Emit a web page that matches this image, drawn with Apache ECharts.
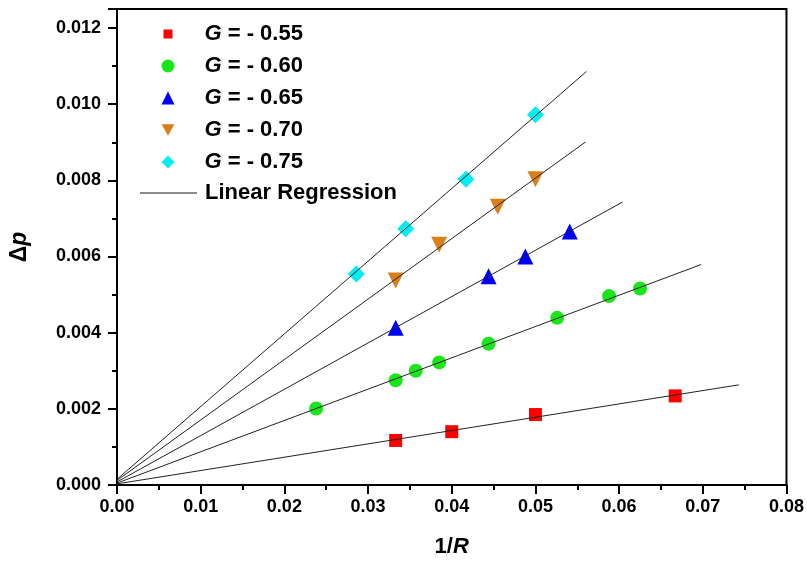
<!DOCTYPE html>
<html>
<head>
<meta charset="utf-8">
<script src="https://cdn.jsdelivr.net/npm/echarts@6/dist/echarts.min.js"></script>
<style>html,body{margin:0;padding:0;background:#fff}#c{width:807px;height:563px}</style>
</head>
<body>
<div id="c"></div>
<script>
// ---- data ----
var seriesNames = ['G = - 0.55', 'G = - 0.60', 'G = - 0.65', 'G = - 0.70', 'G = - 0.75'];
var x055 = [0.0333, 0.0400, 0.0500, 0.0667];
var y055 = [0.00117, 0.00140, 0.00185, 0.00234];
var x060 = [0.0238, 0.0333, 0.0357, 0.0385, 0.0444, 0.0526, 0.0588, 0.0625];
var y060 = [0.00201, 0.00275, 0.00300, 0.00322, 0.00371, 0.00439, 0.00496, 0.00516];
var x065 = [0.0333, 0.0444, 0.0488, 0.0541];
var y065 = [0.00413, 0.00548, 0.00600, 0.00666];
var x070 = [0.0333, 0.0385, 0.0455, 0.0500];
var y070 = [0.00537, 0.00631, 0.00731, 0.00803];
var x075 = [0.0286, 0.0345, 0.0417, 0.0500];
var y075 = [0.00554, 0.00673, 0.00803, 0.00972];
// regression line end points
var fitX0 = [0, 0, 0, 0, 0];
var fitY0 = [0.00003, 0.00005, 0.00008, 0.00012, 0.00015];
var fitX1 = [0.0743, 0.0698, 0.0604, 0.0560, 0.0561];
var fitY1 = [0.00263, 0.00579, 0.00743, 0.00901, 0.01086];
var xTicks = ['0.00', '0.01', '0.02', '0.03', '0.04', '0.05', '0.06', '0.07', '0.08'];
var yTicks = ['0.000', '0.002', '0.004', '0.006', '0.008', '0.010', '0.012'];

// ---- styles ----
var FONT = "'Liberation Sans', Arial, sans-serif";
var colors = ['#ff0000', '#19e619', '#0000ff', '#d9801a', '#00eef0'];
var symbols = ['rect', 'circle', 'triangle', 'triangle', 'diamond'];
var legendIcons = ['path://M2,2L11,2L11,11L2,11Z M0,0 M13,13', 'path://M6.5,0.5A6,6 0 1,1 6.49,0.5Z', 'triangle', 'path://M0,0L2,0L1,1.8Z', 'diamond'];
var sizes = [13, 14, 16, 16, 17];
var rotates = [0, 0, 0, 180, 0];
var xs = [x055, x060, x065, x070, x075];
var ys = [y055, y060, y065, y070, y075];

function zip(a, b) { return a.map(function (v, i) { return [v, b[i]]; }); }

var series = [];
for (var i = 0; i < 5; i++) {
  series.push({
    name: seriesNames[i], type: 'scatter', data: zip(xs[i], ys[i]),
    symbol: symbols[i], symbolSize: sizes[i], symbolRotate: rotates[i],
    itemStyle: { color: colors[i], opacity: 1 }, z: 2
  });
}
for (var j = 0; j < 5; j++) {
  series.push({
    name: 'Linear Regression', type: 'line',
    data: [[fitX0[j], fitY0[j]], [fitX1[j], fitY1[j]]],
    symbol: 'none', lineStyle: { color: '#222', width: 1 }, itemStyle: { color: '#555' },
    z: 3, silent: true
  });
}

var legendText = function (pad) {
  return {
    fontFamily: FONT, fontSize: 22, fontWeight: 'bold', color: '#000', padding: [0, 0, 0, pad],
    rich: {
      i: { fontFamily: FONT, fontSize: 22, fontWeight: 'bold', fontStyle: 'italic', color: '#000', lineHeight: 22 },
      b: { fontFamily: FONT, fontSize: 22, fontWeight: 'bold', color: '#000', lineHeight: 22 }
    }
  };
};
var legendFmt = function (n) {
  if (n.charAt(0) === 'G') return '{i|G}{b|' + n.slice(1) + '}';
  return '{b|' + n + '}';
};

var chart = echarts.init(document.getElementById('c'), null, { renderer: 'canvas' });
chart.setOption({
  animation: false,
  backgroundColor: '#fff',
  grid: { left: 115, right: 18, top: 9, bottom: 76, show: true, borderColor: '#000', borderWidth: 2 },
  legend: [{
    orient: 'vertical', left: 161.5, top: 23, padding: 0, itemWidth: 13, itemHeight: 13, itemGap: 10,
    data: seriesNames.map(function (n, k) { return { name: n, icon: legendIcons[k] }; }),
    formatter: legendFmt, textStyle: legendText(25)
  }, {
    orient: 'vertical', left: 140, top: 182, padding: 0, itemWidth: 57, itemHeight: 1.5,
    data: [{ name: 'Linear Regression', icon: 'rect', itemStyle: { color: '#666' } }],
    formatter: legendFmt, textStyle: legendText(3)
  }],
  xAxis: {
    type: 'value', min: 0, max: 0.08, interval: 0.01,
    name: '{a|1/}{i|R}', nameLocation: 'middle', nameGap: 51,
    nameTextStyle: {
      rich: {
        a: { fontFamily: FONT, fontSize: 22, fontWeight: 'bold', color: '#000' },
        i: { fontFamily: FONT, fontSize: 22, fontWeight: 'bold', fontStyle: 'italic', color: '#000' }
      }
    },
    axisLine: { show: true, lineStyle: { color: '#000', width: 2 } },
    axisTick: { show: true, inside: false, length: 9, lineStyle: { color: '#000', width: 2 } },
    minorTick: { show: true, splitNumber: 2, length: 5, lineStyle: { color: '#000', width: 2 } },
    splitLine: { show: false },
    axisLabel: {
      margin: 13, fontFamily: FONT, fontSize: 18, fontWeight: 'bold', color: '#000',
      formatter: function (v) { var k = Math.round(v / 0.01); return Math.abs(v / 0.01 - k) < 1e-6 ? xTicks[k] : ''; }
    }
  },
  yAxis: {
    type: 'value', min: 0, max: 0.0125, interval: 0.002,
    name: '{d|Δ}{i|p}', nameLocation: 'middle', nameGap: 86,
    nameTextStyle: {
      rich: {
        d: { fontFamily: FONT, fontSize: 23, fontWeight: 'bold', color: '#000' },
        i: { fontFamily: FONT, fontSize: 23, fontWeight: 'bold', fontStyle: 'italic', color: '#000' }
      }
    },
    axisLine: { show: true, lineStyle: { color: '#000', width: 2 } },
    axisTick: { show: true, inside: false, length: 9, lineStyle: { color: '#000', width: 2 } },
    minorTick: { show: true, splitNumber: 2, length: 5, lineStyle: { color: '#000', width: 2 } },
    splitLine: { show: false },
    axisLabel: {
      margin: 16, fontFamily: FONT, fontSize: 18, fontWeight: 'bold', color: '#000',
      formatter: function (v) { var k = Math.round(v / 0.002); return Math.abs(v / 0.002 - k) < 1e-6 ? yTicks[k] : ''; }
    }
  },
  series: series
});
</script>
</body>
</html>
